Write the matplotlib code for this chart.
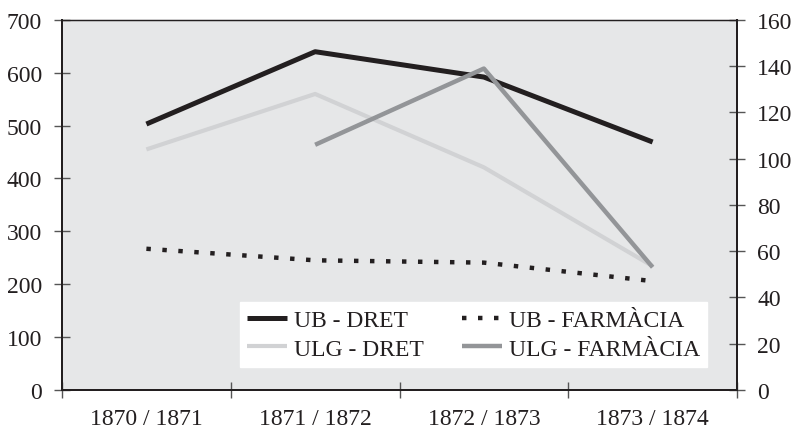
import numpy as np
import matplotlib
matplotlib.use("Agg")
import matplotlib.pyplot as plt

years = ["1870 / 1871", "1871 / 1872", "1872 / 1873", "1873 / 1874"]
ub_dret = [503, 640, 592, 469]
ulg_dret = [455, 560, 421, 234]
ub_farmacia = [61, 56, 55, 47]
ulg_farmacia = [np.nan, 106, 139, 53]

plt.rcParams['font.family'] = ['Liberation Serif', 'DejaVu Serif']
fs = 17
ink = '#231f20'

fig = plt.figure(figsize=(7.93, 4.35), dpi=100)
ax = fig.add_axes([0.0782, 0.1018, 0.8512, 0.8499])
ax.set_facecolor('#e6e7e8')
ax2 = ax.twinx()

x = np.arange(len(years))
l1, = ax.plot(x, ub_dret, color=ink, lw=3.6, solid_capstyle='butt', label='UB - DRET')
l2, = ax.plot(x, ulg_dret, color='#d1d2d4', lw=3.0, solid_capstyle='butt', label='ULG - DRET')
l3, = ax2.plot(x, ub_farmacia, color=ink, lw=3.2, linestyle=(0, (1, 2.6)),
               dash_capstyle='butt', label='UB - FARMÀCIA')
l4, = ax2.plot(x, ulg_farmacia, color='#939598', lw=3.2, solid_capstyle='butt', label='ULG - FARMÀCIA')

ax.set_xlim(-0.5, len(years) - 0.5)
ax.set_ylim(0, 700)
ax2.set_ylim(0, 160)
ax.set_yticks(range(0, 701, 100))
ax2.set_yticks(range(0, 161, 20))

ax.set_xticks(x)
ax.set_xticklabels(years, fontsize=fs, color=ink)
ax.set_xticks(np.arange(-0.5, len(years)), minor=True)
ax.tick_params(axis='x', which='major', length=0, pad=13)
ax.tick_params(axis='x', which='minor', direction='inout', length=11, width=1, color='#555555')
ax.tick_params(axis='y', direction='inout', length=11, width=1, color='#555555',
               labelsize=fs, labelcolor=ink, pad=9)
ax2.tick_params(axis='y', direction='inout', length=11, width=1, color='#555555',
                labelsize=fs, labelcolor=ink, pad=9)

for a in (ax, ax2):
    for s in ('left', 'right', 'bottom'):
        a.spines[s].set_color(ink)
        a.spines[s].set_linewidth(1.4)
    a.spines['top'].set_color(ink)
    a.spines['top'].set_linewidth(0.9)

leg = ax2.legend([l1, l2, l3, l4], [h.get_label() for h in (l1, l2, l3, l4)],
                 ncol=2, loc='center', bbox_to_anchor=(0.597, 0.2287),
                 bbox_transform=fig.transFigure, fontsize=fs, frameon=True,
                 fancybox=False, handlelength=1.7, handletextpad=0.3,
                 columnspacing=1.6, labelspacing=0.3, borderpad=0.3,
                 borderaxespad=0)
leg.get_frame().set_facecolor('white')
leg.get_frame().set_edgecolor('white')
leg.get_frame().set_alpha(1)
for t in leg.get_texts():
    t.set_color(ink)

fig.savefig('out.png', dpi=100)
